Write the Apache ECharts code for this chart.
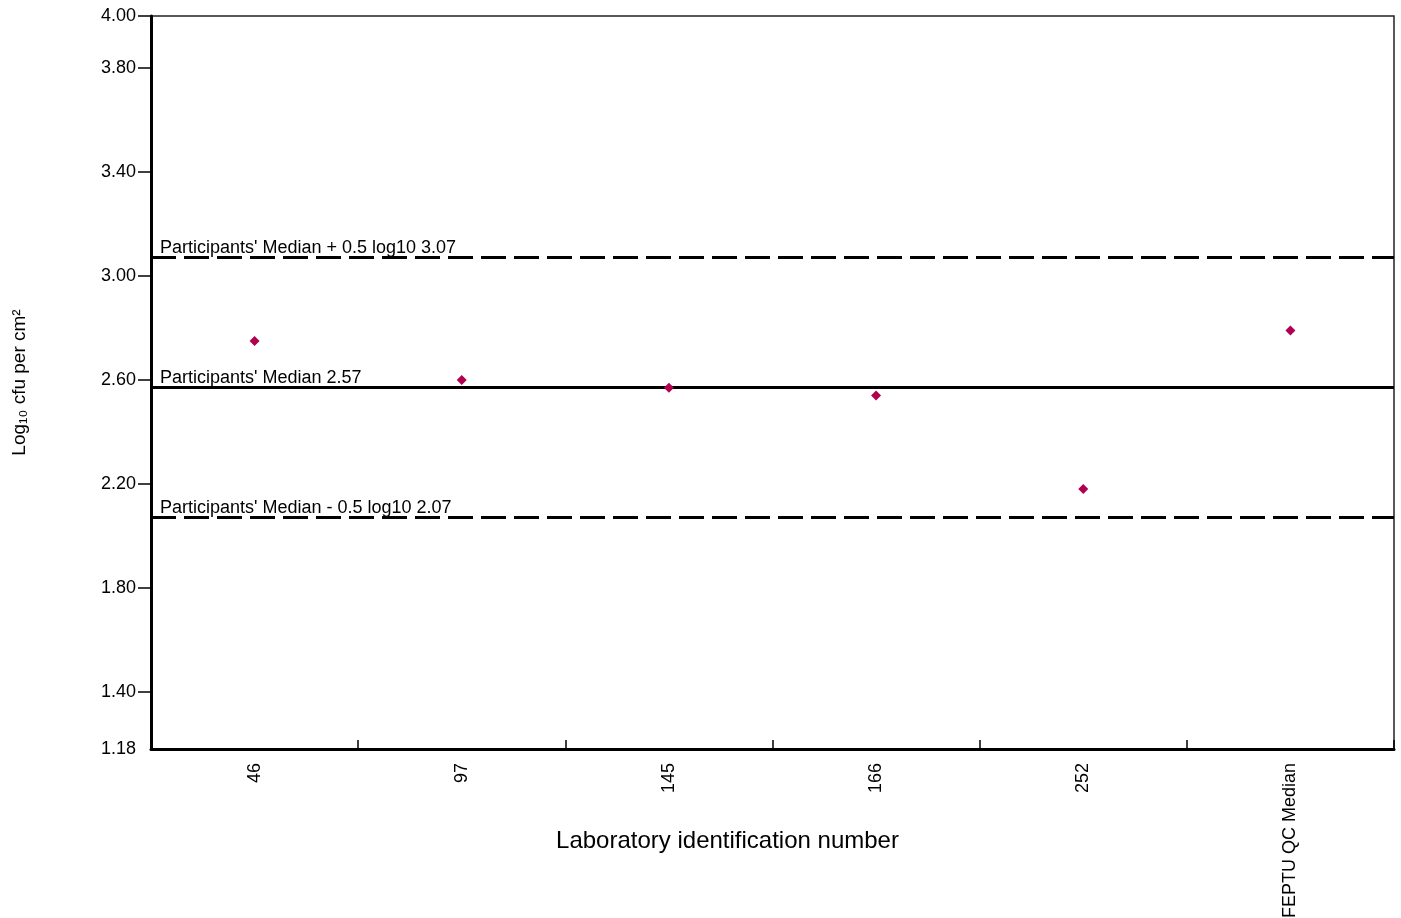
<!DOCTYPE html>
<html>
<head>
<meta charset="utf-8">
<script src="https://cdn.jsdelivr.net/npm/echarts@6/dist/echarts.min.js"></script>
<style>
html, body { margin: 0; padding: 0; background: #fff; }
#chart { width: 1401px; height: 918px; }
</style>
</head>
<body>
<div id="chart"></div>
<script>
// lab ids and their results (log10 cfu per cm2)
var labs = ['46', '97', '145', '166', '252', 'FEPTU QC Median'];
var results = [2.75, 2.60, 2.57, 2.54, 2.18, 2.79];

// reference lines
var refNames = ["Participants' Median + 0.5 log10 3.07", "Participants' Median 2.57", "Participants' Median - 0.5 log10 2.07"];
var refValues = [3.07, 2.57, 2.07];
var refDashed = [true, false, true];

var yLabels = [1.18, 1.40, 1.80, 2.20, 2.60, 3.00, 3.40, 3.80, 4.00];
var yTicks = [1.40, 1.80, 2.20, 2.60, 3.00, 3.40, 3.80, 4.00];

var font = 'Liberation Sans, Arial, sans-serif';

var markData = []
for (var i = 0; i < refValues.length; i++) {
    markData.push({
        name: refNames[i],
        yAxis: refValues[i],
        lineStyle: {
            color: '#000',
            width: 3,
            type: refDashed[i] ? [25, 8] : 'solid'
        },
        label: {
            show: true,
            position: 'insideStartTop',
            formatter: refNames[i],
            color: '#000',
            fontFamily: font,
            fontSize: 18,
            distance: [9, 1]
        }
    })
}

var chart = echarts.init(document.getElementById('chart'));
var option = {
    animation: false,
    grid: {
        left: 151,
        right: 7,
        top: 16,
        bottom: 169,
        outerBoundsMode: 'none',
        containLabel: false,
        show: true,
        borderColor: '#222',
        borderWidth: 1.5,
        backgroundColor: 'transparent'
    },
    xAxis: {
        type: 'category',
        data: labs,
        boundaryGap: true,
        name: 'Laboratory identification number',
        nameLocation: 'middle',
        nameGap: 80,
        nameMoveOverlap: false,
        nameTextStyle: { color: '#000', fontFamily: font, fontSize: 24, padding: [0, 90, 0, 0] },
        axisLine: { lineStyle: { color: '#000', width: 3 } },
        axisTick: { show: true, inside: true, length: 9, interval: 0, lineStyle: { color: '#000', width: 1.5 } },
        axisLabel: { rotate: 90, interval: 0, margin: 14, color: '#000', fontFamily: font, fontSize: 18 },
        splitLine: { show: false }
    },
    yAxis: {
        type: 'value',
        min: 1.18,
        max: 4.00,
        name: 'Log₁₀ cfu per cm²',
        nameLocation: 'middle',
        nameGap: 122,
        nameRotate: 90,
        nameMoveOverlap: false,
        nameTextStyle: { color: '#000', fontFamily: font, fontSize: 19 },
        axisLine: { show: true, lineStyle: { color: '#000', width: 3 } },
        axisTick: { show: true, length: 13, customValues: yTicks, lineStyle: { color: '#000', width: 1.5 } },
        axisLabel: {
            customValues: yLabels,
            margin: 15,
            color: '#000',
            fontFamily: font,
            fontSize: 18,
            formatter: function (v) { return v.toFixed(2); }
        },
        splitLine: { show: false }
    },
    series: [{
        type: 'scatter',
        data: results,
        symbol: 'diamond',
        symbolSize: 10,
        itemStyle: { color: '#b0004f', opacity: 1 },
        z: 5,
        markLine: {
            silent: true,
            symbol: 'none',
            data: markData
        }
    }]
};
chart.setOption(option);
</script>
</body>
</html>
